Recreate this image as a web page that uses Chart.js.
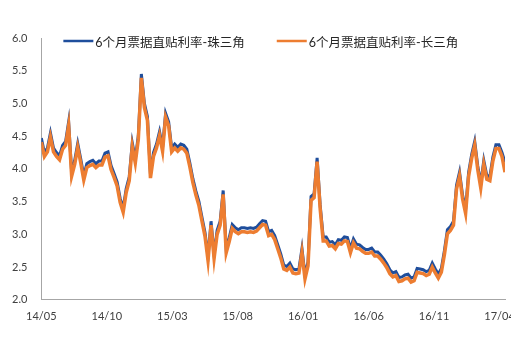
<!DOCTYPE html>
<html>
<head>
<meta charset="utf-8">
<script src="https://cdn.jsdelivr.net/npm/chart.js@4"></script>
<style>
  body { margin: 0; background: #fff; }
  #wrap { width: 511px; height: 349px; }
</style>
</head>
<body>
<div id="wrap"><canvas id="myChart" width="511" height="349"></canvas></div>
<script>
// weekly observations, 2014/05 .. 2017/04
var tickLabels = ['14/05', '14/10', '15/03', '15/08', '16/01', '16/06', '16/11', '17/04'];
var weeksPerTick = 21.6;

var zhu = [
  4.47, 4.25, 4.32, 4.55, 4.32, 4.25, 4.20, 4.36, 4.42, 4.72,
  3.95, 4.13, 4.39, 4.15, 3.89, 4.08, 4.11, 4.13, 4.08, 4.12,
  4.12, 4.24, 4.26, 4.05, 3.93, 3.80, 3.55, 3.40, 3.70, 3.88,
  4.40, 4.15, 4.51, 5.45, 5.00, 4.80, 3.92, 4.25, 4.38, 4.57,
  4.33, 4.85, 4.72, 4.32, 4.38, 4.33, 4.38, 4.36, 4.30, 4.09,
  3.85, 3.66, 3.50, 3.26, 3.03, 2.66, 3.20, 2.69, 3.06, 3.20,
  3.67, 2.78, 2.95, 3.15, 3.10, 3.07, 3.10, 3.10, 3.09, 3.10,
  3.09, 3.11, 3.16, 3.21, 3.20, 3.04, 3.06, 2.98, 2.84, 2.70,
  2.53, 2.51, 2.56, 2.47, 2.46, 2.47, 2.78, 2.38, 2.58, 3.58,
  3.62, 4.17, 3.45, 2.96, 2.96, 2.88, 2.89, 2.84, 2.92, 2.91,
  2.96, 2.95, 2.78, 2.93, 2.85, 2.84, 2.80, 2.77, 2.77, 2.79,
  2.73, 2.73, 2.68, 2.62, 2.55, 2.46, 2.41, 2.43, 2.34, 2.35,
  2.38, 2.39, 2.33, 2.35, 2.48, 2.47, 2.46, 2.43, 2.45, 2.56,
  2.47, 2.39, 2.48, 2.75, 3.07, 3.12, 3.20, 3.75, 3.95, 3.60,
  3.38, 3.95, 4.22, 4.42, 4.05, 3.77, 4.13, 3.90, 3.88, 4.18,
  4.37, 4.37, 4.25, 4.10
];

var chang = [
  4.41, 4.19, 4.26, 4.49, 4.26, 4.19, 4.14, 4.30, 4.36, 4.66,
  3.89, 4.07, 4.33, 4.09, 3.83, 4.02, 4.05, 4.07, 4.02, 4.06,
  4.06, 4.18, 4.20, 3.99, 3.87, 3.74, 3.49, 3.34, 3.64, 3.82,
  4.34, 4.09, 4.45, 5.39, 4.94, 4.74, 3.86, 4.19, 4.32, 4.51,
  4.27, 4.79, 4.66, 4.26, 4.32, 4.27, 4.32, 4.30, 4.24, 4.03,
  3.79, 3.60, 3.44, 3.20, 2.97, 2.60, 3.14, 2.63, 3.00, 3.14,
  3.61, 2.72, 2.89, 3.09, 3.04, 3.01, 3.04, 3.04, 3.03, 3.04,
  3.03, 3.05, 3.10, 3.15, 3.14, 2.98, 3.00, 2.92, 2.78, 2.64,
  2.47, 2.45, 2.50, 2.41, 2.40, 2.41, 2.72, 2.32, 2.52, 3.52,
  3.56, 4.11, 3.39, 2.90, 2.90, 2.82, 2.83, 2.78, 2.86, 2.85,
  2.90, 2.89, 2.72, 2.87, 2.79, 2.78, 2.74, 2.71, 2.71, 2.73,
  2.67, 2.67, 2.62, 2.56, 2.49, 2.40, 2.35, 2.37, 2.28, 2.29,
  2.32, 2.33, 2.27, 2.29, 2.42, 2.41, 2.40, 2.37, 2.39, 2.50,
  2.41, 2.33, 2.42, 2.69, 3.01, 3.06, 3.14, 3.69, 3.89, 3.54,
  3.32, 3.89, 4.16, 4.36, 3.99, 3.71, 4.07, 3.84, 3.82, 4.12,
  4.31, 4.31, 4.19, 3.95
];

var toPoints = function (arr) {
  return arr.map(function (v, i) { return { x: i, y: v }; });
};

var textFont = "Lato, 'Noto Sans CJK SC', sans-serif";

// Excel-style legend sitting inside the top of the plot
var inlineLegend = {
  id: 'inlineLegend',
  afterDraw: function (chart) {
    var c = chart.ctx, area = chart.chartArea;
    var x = area.left + 22, y = area.top + 3;
    c.save();
    c.font = '12.5px ' + textFont;
    c.textBaseline = 'middle';
    chart.data.datasets.forEach(function (ds) {
      c.strokeStyle = ds.borderColor;
      c.lineWidth = 2.5;
      c.beginPath();
      c.moveTo(x, y);
      c.lineTo(x + 30, y);
      c.stroke();
      c.fillStyle = '#262626';
      c.fillText(ds.label, x + 32, y + 2);
      x += 32 + c.measureText(ds.label).width + 32;
    });
    c.restore();
  }
};

var ctx = document.getElementById('myChart').getContext('2d');
var myChart = new Chart(ctx, {
  type: 'line',
  data: {
    datasets: [{
      label: '6个月票据直贴利率-珠三角',
      data: toPoints(zhu),
      borderColor: '#1F4E9C',
      borderWidth: 3,
      order: 2
    }, {
      label: '6个月票据直贴利率-长三角',
      data: toPoints(chang),
      borderColor: '#ED7D31',
      borderWidth: 3.5,
      order: 1
    }]
  },
  options: {
    responsive: false,
    animation: false,
    layout: { padding: { left: 12, right: 6, top: 38, bottom: 26 } },
    elements: { point: { radius: 0 }, line: { tension: 0 } },
    plugins: {
      tooltip: { enabled: false },
      legend: { display: false }
    },
    scales: {
      x: {
        type: 'linear',
        min: 0,
        max: zhu.length - 1,
        grid: { display: false, drawTicks: true, tickLength: 10 },
        border: { display: true, color: '#A6A6A6', width: 1 },
        afterBuildTicks: function (scale) {
          scale.ticks = tickLabels.map(function (l, k) { return { value: k * weeksPerTick }; });
        },
        afterFit: function (scale) {
          // let the end labels run past the plot like Excel does
          scale.paddingLeft = 0;
          scale.paddingRight = 0;
        },
        ticks: {
          autoSkip: false,
          maxRotation: 0,
          padding: 0,
          color: '#404040',
          font: { family: textFont, size: 11 },
          callback: function (v, i) { return tickLabels[i]; }
        }
      },
      y: {
        min: 2,
        max: 6,
        grid: { display: false, drawTicks: false },
        border: { display: true, color: '#A6A6A6', width: 1 },
        afterFit: function (scale) {
          // padding is counted on both sides of the labels; keep only the inner one
          scale.width -= scale.options.ticks.padding;
        },
        ticks: {
          stepSize: 0.5,
          padding: 14,
          color: '#404040',
          font: { family: textFont, size: 11 },
          callback: function (v) { return v.toFixed(1); }
        }
      }
    }
  },
  plugins: [inlineLegend]
});
</script>
</body>
</html>
